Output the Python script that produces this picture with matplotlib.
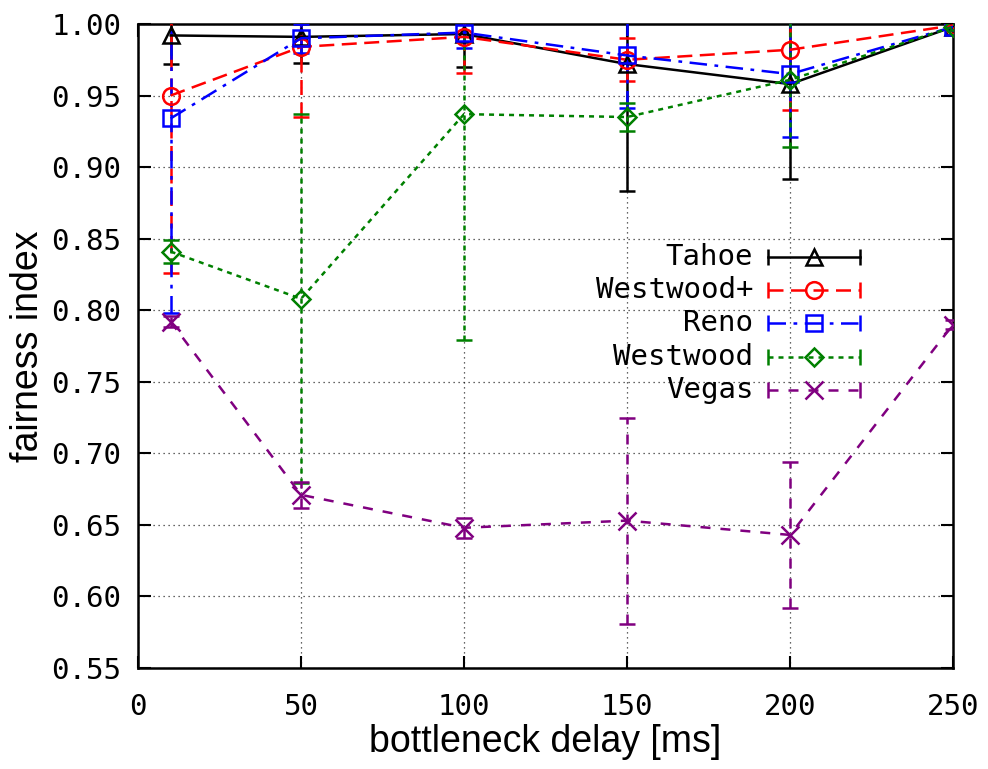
import matplotlib
matplotlib.use("Agg")
import matplotlib.pyplot as plt

# bottleneck delay [ms]
delays = [10, 50, 100, 150, 200, 250]

names = ["Tahoe", "Westwood+", "Reno", "Westwood", "Vegas"]

tahoe = [0.992, 0.991, 0.993, 0.972, 0.958, 0.998]
tahoe_err = [0.020, 0.018, 0.023, 0.089, 0.066, 0.002]

westwood_plus = [0.950, 0.984, 0.991, 0.975, 0.982, 0.999]
westwood_plus_err = [0.124, 0.049, 0.025, 0.015, 0.042, 0.002]

reno = [0.934, 0.990, 0.994, 0.978, 0.965, 0.998]
reno_err = [0.136, 0.010, 0.011, 0.037, 0.044, 0.002]

westwood = [0.841, 0.808, 0.937, 0.935, 0.961, 0.998]
westwood_err = [0.008, 0.129, 0.158, 0.010, 0.047, 0.002]

vegas = [0.792, 0.671, 0.648, 0.653, 0.643, 0.790]
vegas_err = [0.004, 0.009, 0.007, 0.072, 0.051, 0.003]

values = [tahoe, westwood_plus, reno, westwood, vegas]
errors = [tahoe_err, westwood_plus_err, reno_err, westwood_err, vegas_err]

colors = ["black", "#ff0000", "#0000ff", "#008000", "#800080"]
markers = ["^", "o", "s", "D", "x"]
msizes = [12, 12, 12, 9, 13]
dashes = [None, (6, 3), (7, 3, 1.5, 3), (2, 2), (4, 4)]

mono = "DejaVu Sans Mono"
sans = "Liberation Sans"

fig = plt.figure(figsize=(9.88, 7.69), dpi=100)
ax = fig.add_axes([0.1397, 0.1313, 0.8249, 0.8375])

lw = 1.8
for name, y, e, c, m, ms, d in zip(names, values, errors, colors, markers, msizes, dashes):
    line, caps, bars = ax.errorbar(delays, y, yerr=e, color=c, lw=lw, marker=m, ms=ms,
                                   mfc="none", mec=c, mew=1.8, capsize=6, capthick=1.8,
                                   elinewidth=lw, zorder=3)
    if d is not None:
        line.set_dashes(d)
        bars[0].set_linestyle((0, d))

ax.set_xlim(0, 250)
ax.set_ylim(0.55, 1.00)
ax.set_xticks([0, 50, 100, 150, 200, 250])
ax.set_yticks([0.55, 0.60, 0.65, 0.70, 0.75, 0.80, 0.85, 0.90, 0.95, 1.00])
ax.yaxis.set_major_formatter(matplotlib.ticker.FormatStrFormatter("%.2f"))
ax.grid(True, color="black", linestyle=(0, (1, 3)), linewidth=0.9, alpha=0.8)
ax.set_axisbelow(True)
ax.tick_params(direction="in", length=9, width=1.5, top=True, right=True, labelsize=21)
ax.tick_params(axis="x", pad=18)
ax.tick_params(axis="y", pad=12)
for lab in ax.get_xticklabels() + ax.get_yticklabels():
    lab.set_family(mono)
for s in ax.spines.values():
    s.set_linewidth(1.8)

ax.set_xlabel("bottleneck delay [ms]", fontsize=27, family=sans, labelpad=2)
ax.set_ylabel("fairness index", fontsize=27, family=sans, labelpad=4)

# gnuplot style key: text right-aligned, sample line with caps
rows = [0.638, 0.587, 0.536, 0.483, 0.432]
for name, c, m, ms, d, ry in zip(names, colors, markers, msizes, dashes, rows):
    ax.text(0.755, ry, name, transform=ax.transAxes, ha="right", va="center",
            fontsize=21, family=mono, zorder=5)
    seg, = ax.plot([0.773, 0.886], [ry, ry], transform=ax.transAxes, color=c, lw=lw, zorder=5)
    if d is not None:
        seg.set_dashes(d)
    ax.plot([0.829], [ry], transform=ax.transAxes, marker=m, ms=ms, mfc="none", mec=c,
            mew=1.8, zorder=5)
    ax.plot([0.773, 0.886], [ry, ry], transform=ax.transAxes, ls="none", marker="|",
            ms=12, mew=1.8, color=c, zorder=5)

fig.savefig("out.png", dpi=100)
